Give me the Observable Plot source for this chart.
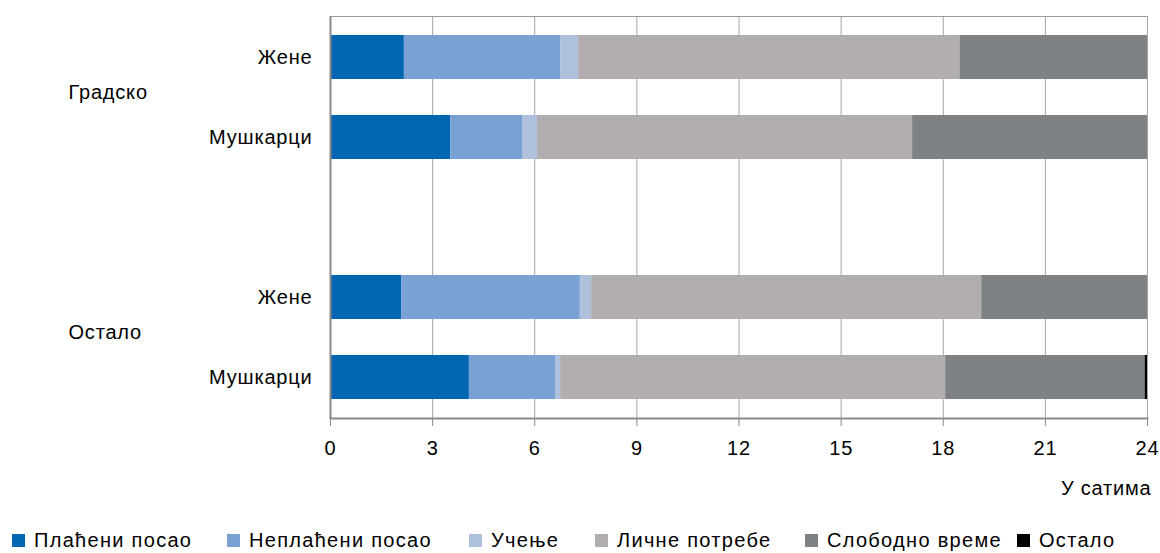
<!DOCTYPE html>
<html><head><meta charset="utf-8">
<script src="https://cdn.jsdelivr.net/npm/d3@7"></script>
<script src="https://cdn.jsdelivr.net/npm/@observablehq/plot@0.6"></script>
<style>
body{margin:0;background:#fff;font-family:"Liberation Sans",Arial,sans-serif;color:#000;}
#chart text{letter-spacing:0.8px}
#legend{position:relative;height:26px;width:1160px;font-size:20px;letter-spacing:1.3px}
.item{position:absolute;top:0;display:flex;align-items:center;height:26px;white-space:nowrap}
.sw{width:13px;height:13px;margin-right:9px}
</style></head><body><div id="chart"></div><div id="legend"></div>
<script>
const groups = ["Градско", "Градско", "Остало", "Остало"];
const sexes = ["Жене", "Мушкарци", "Жене", "Мушкарци"];
const activities = ["Плаћени посао", "Неплаћени посао", "Учење", "Личне потребе", "Слободно време", "Остало"];
const colors = ["#0066b1", "#79a1d3", "#afc0dc", "#b1adb0", "#7f8285", "#000000"];
const paid     = [2.17, 3.53, 2.09, 4.08];
const unpaid   = [4.59, 2.11, 5.25, 2.53];
const study    = [0.53, 0.44, 0.33, 0.15];
const personal = [11.20, 11.02, 11.46, 11.31];
const free     = [5.51, 6.90, 4.87, 5.86];
const other    = [0, 0, 0, 0.07];
const xTicks = [0, 3, 6, 9, 12, 15, 18, 21, 24];
const xLabel = "У сатима";

const series = [paid, unpaid, study, personal, free, other];
const keys = groups.map((g, i) => g + "|" + sexes[i]);
const domain = [keys[0], keys[1], "", keys[2], keys[3]];
const data = [];
keys.forEach((k, i) => series.forEach((s, j) => data.push({row: k, activity: activities[j], value: s[i]})));
const groupLabels = [{row: keys[0], label: groups[0]}, {row: keys[2], label: groups[2]}];

const chart = Plot.plot({
  width: 1160, height: 527,
  marginLeft: 330, marginRight: 13, marginTop: 16, marginBottom: 109,
  style: {fontFamily: '"Liberation Sans", Arial, sans-serif', fontSize: "20px", color: "#000", background: "#fff"},
  x: {domain: [0, 24]},
  y: {domain, paddingInner: 0.447, paddingOuter: 0.2235},
  color: {domain: activities, range: colors},
  marks: [
    Plot.gridX(xTicks, {stroke: "#a6a6a6", strokeOpacity: 1}),
    Plot.frame({anchor: "top", stroke: "#9a9a9a"}),
    Plot.barX(data, Plot.stackX({y: "row", x: "value", fill: "activity"})),
    Plot.ruleX([0], {stroke: "#8a8a8a", strokeWidth: 2}),
    Plot.frame({anchor: "bottom", stroke: "#8a8a8a", strokeWidth: 2}),
    Plot.axisX({ticks: xTicks, tickSize: 8, tickPadding: 14, stroke: "#8a8a8a", fill: "#000", label: null, fontSize: 20}),
    Plot.axisY({tickSize: 0, tickPadding: 18, tickFormat: d => d.split("|")[1] ?? "", label: null, fontSize: 20, fill: "#000"}),
    Plot.text(groupLabels, {y: "row", text: "label", frameAnchor: "left", dx: -262, dy: 35, textAnchor: "start", fontSize: 20, fill: "#000"}),
    Plot.text([xLabel], {frameAnchor: "bottom-right", lineAnchor: "middle", textAnchor: "end", dx: 4, dy: 70, fontSize: 20, fill: "#000"})
  ]
});
document.getElementById("chart").appendChild(chart);

const lefts = [12, 227, 469, 595, 805, 1017];
const legend = document.getElementById("legend");
activities.forEach((a, i) => {
  const it = document.createElement("div");
  it.className = "item";
  it.style.left = lefts[i] + "px";
  it.innerHTML = `<span class="sw" style="background:${colors[i]}"></span><span>${a}</span>`;
  legend.appendChild(it);
});
</script></body></html>
